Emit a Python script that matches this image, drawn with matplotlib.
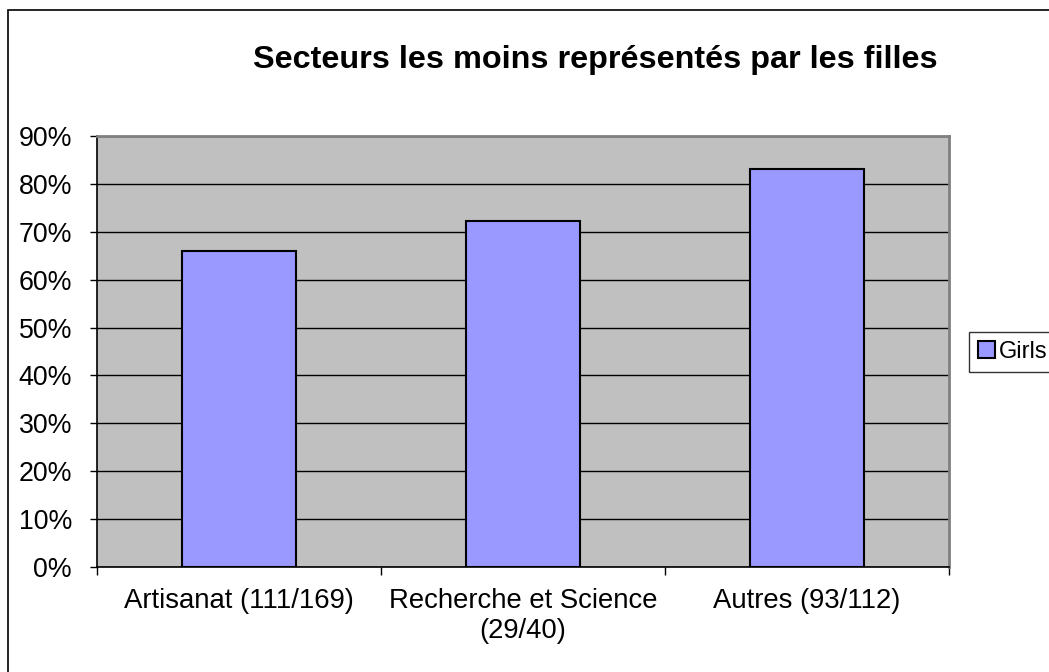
import numpy as np
import matplotlib
matplotlib.use('Agg')
import matplotlib.pyplot as plt
from matplotlib.patches import Rectangle

plt.rcParams['font.family'] = ['Liberation Sans', 'DejaVu Sans']

# données
categories = ['Artisanat (111/169)', 'Recherche et Science\n(29/40)', 'Autres (93/112)']
girls = [0.66, 0.722, 0.831]
yticks = [0, 0.1, 0.2, 0.3, 0.4, 0.5, 0.6, 0.7, 0.8, 0.9]
ylabels = ['0%', '10%', '20%', '30%', '40%', '50%', '60%', '70%', '80%', '90%']

W, H = 1049, 672
fig = plt.figure(figsize=(W / 100, H / 100), dpi=100)
ax = fig.add_axes([97 / W, 1 - 567 / H, (949 - 97) / W, (567 - 136) / H])
ax.set_facecolor('#C0C0C0')

x = np.arange(len(categories))
ax.bar(x, girls, width=0.4, color='#9999FF', edgecolor='black', linewidth=1.5,
       label='Girls', zorder=3)

# grille horizontale
ax.set_ylim(0, 0.9)
ax.set_xlim(-0.5, 2.5)
ax.set_yticks(yticks)
ax.set_yticklabels(ylabels, fontsize=19.3)
ax.yaxis.grid(True, color='black', linewidth=1, zorder=1)
ax.set_axisbelow(True)
ax.tick_params(axis='y', length=5, width=1, direction='out', pad=13)

ax.set_xticks([-0.5, 0.5, 1.5, 2.5])
ax.set_xticklabels([])
ax.set_xticks(x, minor=True)
ax.set_xticklabels(categories, minor=True, fontsize=19.8)
ax.tick_params(axis='x', which='major', length=6, width=1, direction='out')
ax.tick_params(axis='x', which='minor', length=0, pad=15)

for s in ['left', 'bottom']:
    ax.spines[s].set_color('black')
    ax.spines[s].set_linewidth(1.2)
for s in ['top', 'right']:
    ax.spines[s].set_color('#808080')
    ax.spines[s].set_linewidth(2)

fig.text(595 / W, 1 - 60 / H, 'Secteurs les moins représentés par les filles',
         ha='center', va='center', fontsize=23.3, fontweight='bold')

leg = fig.legend(loc='center left', bbox_to_anchor=(969 / W, 1 - 352 / H),
                 fontsize=17, frameon=True, fancybox=False, handlelength=0.7,
                 handleheight=0.7, handletextpad=0.15, borderpad=0.4,
                 borderaxespad=0)
leg.get_frame().set_edgecolor('black')
leg.get_frame().set_linewidth(1)

# cadre extérieur du graphique
fig.patches.append(Rectangle((8 / W, -0.1), 2, 1 - 10 / H + 0.1, transform=fig.transFigure,
                             fill=False, edgecolor='black', linewidth=1.2))

fig.savefig('out.png', dpi=100)
